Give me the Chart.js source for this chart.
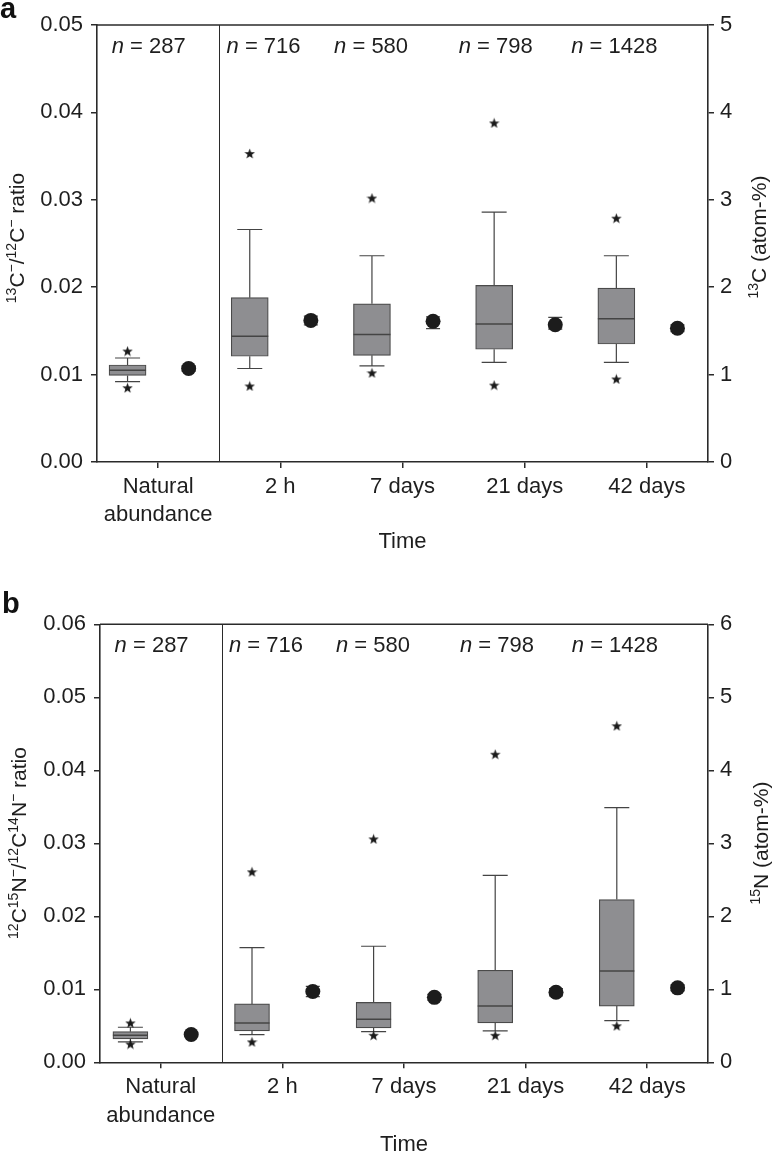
<!DOCTYPE html>
<html>
<head>
<meta charset="utf-8">
<script src="https://cdn.jsdelivr.net/npm/chart.js@4.4.1/dist/chart.umd.min.js"></script>
<style>
  body { margin: 0; background: #fff; }
  #wrap { position: relative; width: 781px; height: 1158px; }
  canvas { position: absolute; left: 0; }
</style>
</head>
<body>
<div id="wrap">
  <canvas id="panelA" width="781" height="575" style="top:0px"></canvas>
  <canvas id="panelB" width="781" height="583" style="top:575px"></canvas>
</div>
<script>
const FONT = "'Liberation Sans', Arial, Helvetica, sans-serif";
const FS = 22;

const categories = [['Natural', 'abundance'], '2 h', '7 days', '21 days', '42 days'];
const sampleSizes = [287, 716, 580, 798, 1428];

// panel a: 13C- / 12C- ratio
const carbonP5 = [0.0085, 0.0087, 0.0102, 0.0088, 0.0095];
const carbonP10 = [0.0092, 0.0107, 0.0110, 0.0114, 0.0114];
const carbonQ1 = [0.0099, 0.0121, 0.0122, 0.0129, 0.0135];
const carbonMedian = [0.0105, 0.0144, 0.0146, 0.0158, 0.0164];
const carbonQ3 = [0.0111, 0.0188, 0.0181, 0.0202, 0.0199];
const carbonP90 = [0.0119, 0.0266, 0.0236, 0.0286, 0.0236];
const carbonP95 = [0.0127, 0.0353, 0.0302, 0.0388, 0.0279];
const carbonAtom = [1.07, 1.62, 1.61, 1.57, 1.53];
const carbonAtomErrLow = [0.03, 0.05, 0.085, 0.05, 0.04];
const carbonAtomErrHigh = [0.03, 0.05, 0.05, 0.085, 0.04];

// panel b: 12C15N- / 12C14N- ratio
const nitrogenP5 = [0.0025, 0.0028, 0.0037, 0.0037, 0.0050];
const nitrogenP10 = [0.0028, 0.0038, 0.0042, 0.0043, 0.0057];
const nitrogenQ1 = [0.0032, 0.0043, 0.0047, 0.0054, 0.0077];
const nitrogenMedian = [0.0037, 0.0054, 0.0059, 0.0077, 0.0125];
const nitrogenQ3 = [0.0042, 0.0080, 0.0082, 0.0126, 0.0223];
const nitrogenP90 = [0.0048, 0.0157, 0.0159, 0.0256, 0.0349];
const nitrogenP95 = [0.0054, 0.0261, 0.0306, 0.0422, 0.0461];
const nitrogenAtom = [0.38, 0.97, 0.89, 0.96, 1.02];
const nitrogenAtomErrLow = [0.02, 0.07, 0.04, 0.05, 0.04];
const nitrogenAtomErrHigh = [0.02, 0.07, 0.04, 0.05, 0.04];

const nLabelX = [-0.38, 0.56, 1.44, 2.46, 3.38];

Chart.defaults.font.family = FONT;
Chart.defaults.font.size = FS;
Chart.defaults.color = '#1e1e1e';

function makeStar(size) {
    const c = document.createElement('canvas');
    c.width = size;
    c.height = size;
    const g = c.getContext('2d');
    const r = size / 2, ri = r * 0.42;
    g.beginPath();
    for (let k = 0; k < 10; k++) {
        const rad = k % 2 ? ri : r;
        const a = -Math.PI / 2 + k * Math.PI / 5;
        g.lineTo(r + rad * Math.cos(a), r + rad * Math.sin(a) + 0.5);
    }
    g.closePath();
    g.fillStyle = '#1a1a1a';
    g.fill();
    return c;
}
const starImg = makeStar(11);

function drawRich(ctx, markup, cx, cy) {
    // text between ^ marks is superscript
    const parts = markup.split('^');
    ctx.save();
    ctx.translate(cx, cy);
    ctx.rotate(-Math.PI / 2);
    let w = 0;
    parts.forEach((t, i) => {
        ctx.font = (i % 2 ? 14 : 21) + 'px ' + FONT;
        w += ctx.measureText(t).width;
    });
    let x = -w / 2;
    ctx.textBaseline = 'middle';
    ctx.fillStyle = '#1e1e1e';
    parts.forEach((t, i) => {
        ctx.font = (i % 2 ? 14 : 21) + 'px ' + FONT;
        ctx.fillText(t, x, i % 2 ? -6 : 0);
        x += ctx.measureText(t).width;
    });
    ctx.restore();
}

function extrasPlugin(p) {
    return {
        id: 'boxExtras',
        beforeDatasetsDraw(chart) {
            const ctx = chart.ctx, xs = chart.scales.x, ys = chart.scales.y, y1 = chart.scales.y1;
            ctx.save();
            ctx.strokeStyle = '#444';
            ctx.lineWidth = 1.2;
            categories.forEach((c, i) => {
                const x = xs.getPixelForValue(i - 0.25);
                const segs = [[p.q3[i], p.p90[i]], [p.q1[i], p.p10[i]]];
                segs.forEach(([from, to]) => {
                    const a = ys.getPixelForValue(from), b = ys.getPixelForValue(to);
                    ctx.beginPath();
                    ctx.moveTo(x, a); ctx.lineTo(x, b);
                    ctx.moveTo(x - 12.5, b); ctx.lineTo(x + 12.5, b);
                    ctx.stroke();
                });
                // error bars behind the circles
                const xc = xs.getPixelForValue(i + 0.25);
                const lo = y1.getPixelForValue(p.atom[i] - p.errLow[i]);
                const hi = y1.getPixelForValue(p.atom[i] + p.errHigh[i]);
                ctx.beginPath();
                ctx.moveTo(xc, lo); ctx.lineTo(xc, hi);
                ctx.moveTo(xc - 7, lo); ctx.lineTo(xc + 7, lo);
                ctx.moveTo(xc - 7, hi); ctx.lineTo(xc + 7, hi);
                ctx.stroke();
            });
            ctx.restore();
        },
        afterDatasetsDraw(chart) {
            const ctx = chart.ctx, xs = chart.scales.x, ys = chart.scales.y;
            const area = chart.chartArea;
            ctx.save();
            ctx.strokeStyle = '#444';
            ctx.lineWidth = 1.5;
            categories.forEach((c, i) => {
                const x = xs.getPixelForValue(i - 0.25);
                const m = ys.getPixelForValue(p.median[i]);
                ctx.beginPath();
                ctx.moveTo(x - p.boxW / 2, m); ctx.lineTo(x + p.boxW / 2, m);
                ctx.stroke();
            });
            // frame top and divider
            ctx.strokeStyle = '#2a2a2a';
            ctx.lineWidth = 1.5;
            ctx.beginPath();
            ctx.moveTo(area.left, area.top); ctx.lineTo(area.right, area.top);
            ctx.stroke();
            ctx.lineWidth = 1;
            const dx = Math.round(xs.getPixelForValue(0.5)) + 0.5;
            ctx.beginPath();
            ctx.moveTo(dx, area.top); ctx.lineTo(dx, area.bottom);
            ctx.stroke();

            // n labels
            ctx.fillStyle = '#1e1e1e';
            ctx.textBaseline = 'middle';
            sampleSizes.forEach((n, i) => {
                let x = xs.getPixelForValue(nLabelX[i]);
                const y = area.top + 22;
                ctx.font = 'italic ' + FS + 'px ' + FONT;
                ctx.fillText('n', x, y);
                x += ctx.measureText('n').width;
                ctx.font = FS + 'px ' + FONT;
                ctx.fillText(' = ' + n, x, y);
            });

            // axis titles
            drawRich(ctx, p.leftTitle, p.leftTitleX, p.leftTitleY);
            drawRich(ctx, p.rightTitle, p.rightTitleX, p.rightTitleY);
            ctx.font = FS + 'px ' + FONT;
            ctx.textAlign = 'center';
            ctx.fillText('Time', (area.left + area.right) / 2, p.timeY);
            ctx.textAlign = 'left';
            ctx.textBaseline = 'alphabetic';
            ctx.font = 'bold 29px ' + FONT;
            ctx.fillStyle = '#111';
            ctx.fillText(p.letter, p.letterX, p.letterY);
            ctx.restore();
        }
    };
}

function initPanel(canvas, p) {
    const H = canvas.height;
    const boxes = categories.map((c, i) => ({ x: i - 0.25, y: [p.q1[i], p.q3[i]] }));
    const stars = [];
    categories.forEach((c, i) => {
        stars.push({ x: i - 0.25, y: p.p95[i] });
        stars.push({ x: i - 0.25, y: p.p5[i] });
    });
    const circles = categories.map((c, i) => ({ x: i + 0.25, y: p.atom[i] }));

    return new Chart(canvas, {
        type: 'scatter',
        data: {
            datasets: [
                {
                    type: 'bar',
                    data: boxes,
                    yAxisID: 'y',
                    backgroundColor: '#8e8e91',
                    borderColor: '#4a4a4a',
                    borderWidth: 1.2,
                    borderSkipped: false,
                    barThickness: p.boxW
                },
                {
                    type: 'scatter',
                    data: stars,
                    yAxisID: 'y',
                    pointStyle: starImg,
                    pointRadius: 5
                },
                {
                    type: 'scatter',
                    data: circles,
                    yAxisID: 'y1',
                    pointStyle: 'circle',
                    pointRadius: 7.5,
                    backgroundColor: '#1c1c1c',
                    borderColor: '#1c1c1c',
                    borderWidth: 0
                }
            ]
        },
        options: {
            responsive: false,
            animation: false,
            devicePixelRatio: 1,
            layout: { padding: { top: p.top, left: 0, right: 0, bottom: 0 } },
            plugins: { legend: { display: false }, tooltip: { enabled: false } },
            scales: {
                x: {
                    type: 'linear',
                    min: -0.5,
                    max: 4.5,
                    offset: false,
                    afterBuildTicks: (s) => { s.ticks = categories.map((c, i) => ({ value: i })); },
                    afterFit: (s) => { s.height = H - p.bottom; },
                    ticks: {
                        callback: (v) => categories[v],
                        padding: 5,
                        maxRotation: 0,
                        autoSkip: false,
                        font: { size: FS, lineHeight: 1.28 }
                    },
                    grid: { drawOnChartArea: false, offset: false, tickLength: 6, color: '#2a2a2a', lineWidth: 1.5 },
                    border: { color: '#2a2a2a', width: 1.6 }
                },
                y: {
                    position: 'left',
                    min: 0,
                    max: p.yMax,
                    afterFit: (s) => { s.width = p.left; },
                    ticks: { stepSize: 0.01, padding: 8, callback: (v) => v.toFixed(2) },
                    grid: { drawOnChartArea: false, tickLength: 6, color: '#2a2a2a', lineWidth: 1.5 },
                    border: { color: '#2a2a2a', width: 1.6 }
                },
                y1: {
                    position: 'right',
                    min: 0,
                    max: p.y1Max,
                    afterFit: (s) => { s.width = 781 - p.right; },
                    ticks: { stepSize: 1, padding: 6 },
                    grid: { drawOnChartArea: false, tickLength: 6, color: '#2a2a2a', lineWidth: 1.5 },
                    border: { color: '#2a2a2a', width: 1.6 }
                }
            }
        },
        plugins: [extrasPlugin(p)]
    });
}

function setup() {
    initPanel(document.getElementById('panelA'), {
        p5: carbonP5, p10: carbonP10, q1: carbonQ1, median: carbonMedian, q3: carbonQ3,
        p90: carbonP90, p95: carbonP95, atom: carbonAtom,
        errLow: carbonAtomErrLow, errHigh: carbonAtomErrHigh,
        yMax: 0.05, y1Max: 5,
        top: 25, bottom: 462, left: 97, right: 708, boxW: 37,
        leftTitle: '^13^C^\u2212^/^12^C^\u2212^ ratio', leftTitleX: 18, leftTitleY: 238,
        rightTitle: '^13^C (atom-%)', rightTitleX: 760, rightTitleY: 237,
        timeY: 542, letter: 'a', letterX: 0, letterY: 18
    });
    initPanel(document.getElementById('panelB'), {
        p5: nitrogenP5, p10: nitrogenP10, q1: nitrogenQ1, median: nitrogenMedian, q3: nitrogenQ3,
        p90: nitrogenP90, p95: nitrogenP95, atom: nitrogenAtom,
        errLow: nitrogenAtomErrLow, errHigh: nitrogenAtomErrHigh,
        yMax: 0.06, y1Max: 6,
        top: 49.3, bottom: 487.3, left: 100, right: 708, boxW: 35,
        leftTitle: '^12^C^15^N^\u2212^/^12^C^14^N^\u2212^ ratio', leftTitleX: 20, leftTitleY: 268,
        rightTitle: '^15^N (atom-%)', rightTitleX: 762, rightTitleY: 268,
        timeY: 570, letter: 'b', letterX: 2, letterY: 38
    });
}

document.addEventListener('DOMContentLoaded', setup);
</script>
</body>
</html>
